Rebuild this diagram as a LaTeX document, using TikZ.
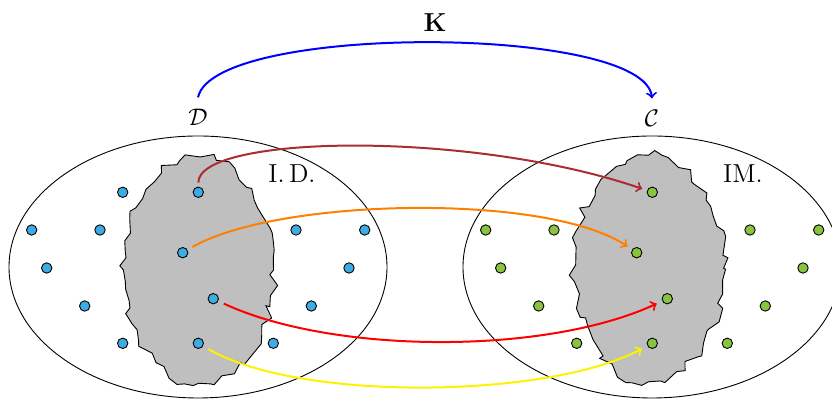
\documentclass[tikz,border=0pt]{standalone}
\usepackage{fontspec}
\usetikzlibrary{decorations.pathmorphing}
\definecolor{dotblue}{RGB}{62,172,226}
\definecolor{dotgreen}{RGB}{137,196,64}
\definecolor{arrbrown}{RGB}{170,45,50}
\definecolor{arrorange}{RGB}{255,128,0}
\definecolor{blobgray}{RGB}{191,191,191}
\begin{document}
\begin{tikzpicture}[x=0.5pt,y=-0.5pt,
  bdot/.style={circle,inner sep=0pt,minimum size=5.2pt,draw=black,line width=0.45pt,fill=dotblue},
  gdot/.style={circle,inner sep=0pt,minimum size=5.2pt,draw=black,line width=0.45pt,fill=dotgreen},
  region/.style={draw=black,line width=0.45pt},
  blob/.style={fill=blobgray,draw=black,line width=0.45pt,decorate,
    decoration={random steps,segment length=4.5pt,amplitude=2.4pt}},
  link/.style={line width=1pt,->},
  lbl/.style={font=\fontsize{13}{15}\selectfont,inner sep=0pt}]
\useasboundingbox (0,0) rectangle (832,399);
\pgfmathsetseed{11}
% big regions
\draw[region] (198,267) ellipse [x radius=94.5pt, y radius=65.5pt];
\draw[region] (652,267) ellipse [x radius=94.5pt, y radius=65.5pt];
% blobs
\draw[blob] (198.5,270) ellipse [x radius=37.5pt, y radius=56.5pt];
\draw[blob] (648.5,268.5) ellipse [x radius=37.5pt, y radius=56.5pt];
% dots, left set
\foreach \n/\x/\y in {1/122.7/192.3, 2/198.3/192.3, 3/31.7/230, 4/100/230, 5/296/230,
  6/364.7/230, 7/182.7/252.7, 8/46.7/268, 9/349/268, 10/213.3/298.7, 11/84.7/306,
  12/311.3/306, 13/122.7/343.3, 14/198.3/343.3, 15/273.3/343.3}{
  \node[bdot] (b\n) at (\x,\y) {};
}
% dots, right set
\foreach \n/\x/\y in {2/198.3/192.3, 3/31.7/230, 4/100/230, 5/296/230,
  6/364.7/230, 7/182.7/252.7, 8/46.7/268, 9/349/268, 10/213.3/298.7, 11/84.7/306,
  12/311.3/306, 13/122.7/343.3, 14/198.3/343.3, 15/273.3/343.3}{
  \node[gdot] (g\n) at (\x+454,\y) {};
}
% labels
\node[lbl] (D) at (198,117) {$\mathcal{D}$};
\node[lbl] (C) at (652,118) {$\mathcal{C}$};
\node[lbl] (K) at (435,23) {\textbf{K}};
\node[lbl] (ID) at (292,174) {I.\,D.};
\node[lbl] (IM) at (743,174) {IM.};
% top arrow
\draw[link,blue] ([yshift=5.5pt]D.north) to[out=78,in=95,out distance=38pt,in distance=37pt] ([yshift=5.5pt]C.north);
% mapping arrows
\draw[link,arrbrown,shorten <=2pt,shorten >=2.5pt] (b2) to[out=90,in=161,out distance=26pt,in distance=93pt] (g2);
\draw[link,arrorange,shorten <=2.8pt,shorten >=2.7pt] (b7) to[out=30,in=146,out distance=52pt,in distance=51pt] (g7);
\draw[link,red,shorten <=3pt,shorten >=3pt] (b10) to[out=-25,in=205,out distance=63pt,in distance=64pt] (g10);
\draw[link,yellow,shorten <=3pt,shorten >=3pt] (b14) to[out=-30,in=208,out distance=56pt,in distance=56pt] (g14);
\end{tikzpicture}
\end{document}
